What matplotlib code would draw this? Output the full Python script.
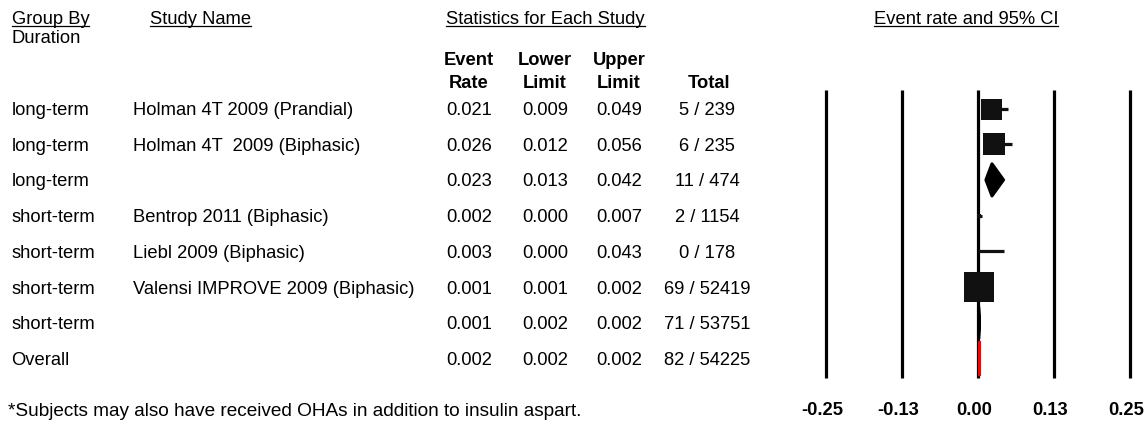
import matplotlib
matplotlib.use("Agg")
import matplotlib.pyplot as plt
from matplotlib.patches import Polygon
from matplotlib.transforms import ScaledTranslation
import numpy as np

# ---- data ---------------------------------------------------------------
groups = ["long-term", "long-term", "long-term", "short-term", "short-term",
          "short-term", "short-term", "Overall"]
studies = ["Holman 4T 2009 (Prandial)", "Holman 4T  2009 (Biphasic)", "",
           "Bentrop 2011 (Biphasic)", "Liebl 2009 (Biphasic)",
           "Valensi IMPROVE 2009 (Biphasic)", "", ""]
event_rate = [0.021, 0.026, 0.023, 0.002, 0.003, 0.001, 0.001, 0.002]
lower_limit = [0.009, 0.012, 0.013, 0.000, 0.000, 0.001, 0.002, 0.002]
upper_limit = [0.049, 0.056, 0.042, 0.007, 0.043, 0.002, 0.002, 0.002]
totals = ["5 / 239", "6 / 235", "11 / 474", "2 / 1154", "0 / 178",
          "69 / 52419", "71 / 53751", "82 / 54225"]
row_kind = ["study", "study", "subtotal", "study", "study", "study",
            "subtotal", "overall"]
rel_weight = [441, 484, 0, 22, 6, 880, 0, 0]
tick_values = [-0.25, -0.125, 0.0, 0.125, 0.25]
tick_labels = ["-0.25", "-0.13", "0.00", "0.13", "0.25"]
footnote = "*Subjects may also have received OHAs in addition to insulin aspart."

# ---- layout -------------------------------------------------------------
W, H, DPI = 1146, 422, 100
FS = 13.2
plt.rcParams["font.family"] = ["Liberation Sans", "DejaVu Sans"]

fig = plt.figure(figsize=(W / DPI, H / DPI), dpi=DPI)
fig.patch.set_facecolor("white")

# text layer in pixel coordinates (origin top-left)
tx = fig.add_axes([0, 0, 1, 1])
tx.set_xlim(0, W)
tx.set_ylim(H, 0)
tx.axis("off")

row0, row_step = 108.5, 35.7
base0 = 115.0


def row_base(i):
    return base0 + row_step * i


underlined = []
underlined.append(tx.text(11.5, 24, "Group By", fontsize=FS, ha="left", va="baseline"))
tx.text(11.5, 43, "Duration", fontsize=FS, ha="left", va="baseline")
underlined.append(tx.text(150, 24, "Study Name", fontsize=FS, ha="left", va="baseline"))
underlined.append(tx.text(446, 24, "Statistics for Each Study", fontsize=FS,
                          ha="left", va="baseline"))
underlined.append(tx.text(966, 24, "Event rate and 95% CI", fontsize=FS,
                          ha="center", va="baseline"))

col_x = [469, 545, 619, 707]
for x, top, bottom in zip(col_x, ["Event", "Lower", "Upper", ""],
                          ["Rate", "Limit", "Limit", "Total"]):
    if top:
        tx.text(x, 65, top, fontsize=FS, fontweight="bold", ha="center", va="baseline")
    tx.text(x if bottom != "Total" else 709, 88, bottom, fontsize=FS,
            fontweight="bold", ha="center", va="baseline")

for i in range(len(groups)):
    yb = row_base(i)
    tx.text(11.5, yb, groups[i], fontsize=FS, ha="left", va="baseline")
    if studies[i]:
        tx.text(133, yb, studies[i], fontsize=FS, ha="left", va="baseline")
    tx.text(col_x[0], yb, f"{event_rate[i]:.3f}", fontsize=FS, ha="center", va="baseline")
    tx.text(col_x[1], yb, f"{lower_limit[i]:.3f}", fontsize=FS, ha="center", va="baseline")
    tx.text(col_x[2], yb, f"{upper_limit[i]:.3f}", fontsize=FS, ha="center", va="baseline")
    tx.text(col_x[3], yb, totals[i], fontsize=FS, ha="center", va="baseline")

tx.text(8, 416, footnote, fontsize=13.7, ha="left", va="baseline")

# ---- forest plot axes ---------------------------------------------------
x_left, x_right = 826, 1130
y_top, y_bot = 90, 378
ax = fig.add_axes([x_left / W, (H - y_bot) / H, (x_right - x_left) / W,
                   (y_bot - y_top) / H])
ax.set_xlim(-0.25, 0.25)
ax.set_ylim((y_bot - row0) / row_step, (y_top - row0) / row_step)
for s in ax.spines.values():
    s.set_visible(False)
ax.patch.set_alpha(0)
ax.set_yticks([])

for v in tick_values:
    ax.axvline(v, color="black", lw=2.3, zorder=1, clip_on=False,
               solid_capstyle="butt")

px_to_pt = 72.0 / DPI
half_h = 0.45
for i in range(len(groups)):
    kind = row_kind[i]
    if kind == "study":
        ax.plot([lower_limit[i], upper_limit[i]], [i, i], color="#111111",
                lw=2.3, solid_capstyle="butt", zorder=2, clip_on=False)
        side = np.sqrt(rel_weight[i]) * px_to_pt
        ax.plot(event_rate[i], i, marker="s", markersize=side, color="#111111",
                markeredgewidth=0, zorder=3, clip_on=False)
    else:
        color = "#ff0000" if kind == "overall" else "black"
        pts = [(lower_limit[i], i), (event_rate[i], i - half_h),
               (upper_limit[i], i), (event_rate[i], i + half_h)]
        ax.add_patch(Polygon(pts, closed=True, facecolor=color, edgecolor=color,
                             lw=2.2, zorder=4, clip_on=False, joinstyle="round"))

ax.set_xticks(tick_values, labels=tick_labels)
ax.tick_params(axis="x", length=0, pad=17, labelsize=FS)
shift = ScaledTranslation(-3.5 / DPI, 0, fig.dpi_scale_trans)
for lab in ax.get_xticklabels():
    lab.set_fontweight("bold")
    lab.set_transform(lab.get_transform() + shift)

# ---- underline header labels --------------------------------------------
renderer = fig.canvas.get_renderer()
inv = tx.transData.inverted()
for t in underlined:
    bb = t.get_window_extent(renderer)
    (x0, _), (x1, _) = inv.transform([(bb.x0, bb.y0), (bb.x1, bb.y0)])
    _, yb = t.get_position()
    tx.plot([x0, x1], [yb + 2, yb + 2], color="black", lw=0.9)

fig.savefig("out.png", dpi=DPI, facecolor="white")
